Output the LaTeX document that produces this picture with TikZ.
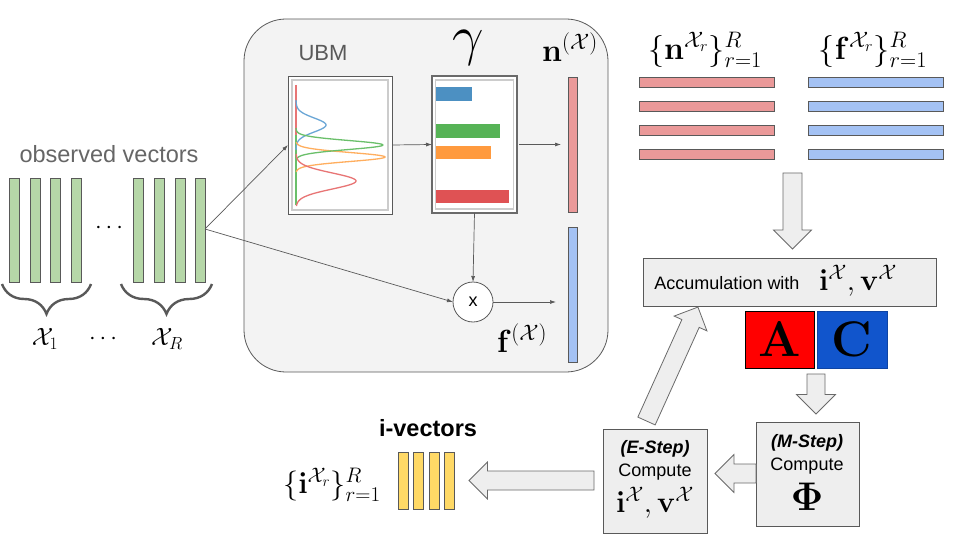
\RequirePackage{fix-cm}
\documentclass[tikz,border=0pt]{standalone}
\usepackage[no-math]{fontspec}
\setmainfont{Liberation Sans}
\usetikzlibrary{decorations.pathreplacing,arrows.meta,calc}
\definecolor{linegray}{HTML}{595959}
\definecolor{txtgray}{HTML}{666666}
\definecolor{gfill}{HTML}{B6D7A8}
\definecolor{boxfill}{HTML}{F3F3F3}
\definecolor{lightfill}{HTML}{EEEEEE}
\definecolor{nred}{HTML}{EA9999}
\definecolor{fblue}{HTML}{A4C2F4}
\definecolor{yel}{HTML}{FFD966}
\definecolor{cblue}{HTML}{1155CC}
\definecolor{tabblue}{HTML}{4C90C2}
\definecolor{tabgreen}{HTML}{56B356}
\definecolor{taborange}{HTML}{FF9A3E}
\definecolor{tabred}{HTML}{DF5254}
\definecolor{cvblue}{HTML}{6AA6D6}
\definecolor{cvgreen}{HTML}{6ABF6A}
\definecolor{cvorange}{HTML}{FFAE5E}
\definecolor{cvred}{HTML}{E87575}
\newcommand\fsz[1]{\fontsize{#1}{#1}\selectfont}
\tikzset{
  every node/.style={inner sep=0pt, outer sep=0pt},
  gbar/.style={draw=linegray, fill=gfill, line width=0.8pt, minimum width=10pt, minimum height=104pt},
  ybar/.style={draw=linegray, fill=yel, line width=0.8pt, minimum width=10pt, minimum height=57pt},
  hbarn/.style={draw=linegray, fill=nred, line width=0.8pt, minimum width=135pt, minimum height=10pt},
  hbarf/.style={draw=linegray, fill=fblue, line width=0.8pt, minimum width=135pt, minimum height=10pt},
  graybox/.style={draw=linegray, fill=lightfill, line width=0.8pt},
  thinarrow/.style={draw=linegray, line width=0.7pt, -{Latex[length=6pt,width=4pt]}},
  hollow/.style={draw=linegray!90, fill=lightfill, line width=0.8pt, line join=miter},
  curve/.style={line width=1.3pt},
  bracestyle/.style={draw=linegray, line width=2.4pt, decorate, decoration={brace, amplitude=30pt}},
  pics/harrow/.style n args={3}{code={
    \draw[hollow] (0,{-#2/2}) -- ({#1-#3},{-#2/2}) -- ({#1-#3},{-#3}) -- (#1,0)
      -- ({#1-#3},{#3}) -- ({#1-#3},{#2/2}) -- (0,{#2/2}) -- cycle;}}
}
\begin{document}
\begin{tikzpicture}[x=1pt,y=-1pt]
\useasboundingbox (0,0) rectangle (960,540);
\fill[white] (0,0) rectangle (960,540);

% observed vectors
\node[text=txtgray, font=\fsz{23.5}] (obs) at (109,154) {observed vectors};
\foreach \i/\x in {1/14,2/35,3/55,4/76,5/138,6/159,7/180,8/200}
  \node[gbar] (g\i) at (\x,230) {};
\node[font=\fsz{24}] (dots1) at (109,228) {$\cdots$};
\draw[bracestyle] (91,284) -- (2,284);
\draw[bracestyle] (212,284) -- (121,284);
\node[font=\fsz{25}] (x1) at (45,339) {$\mathcal{X}_1$};
\node[font=\fsz{24}] (dots2) at (103,339) {$\cdots$};
\node[font=\fsz{25}] (xr) at (167,339) {$\mathcal{X}_R$};
\coordinate (src) at (205,229);

% processing box
\node[draw=linegray, fill=boxfill, line width=0.8pt, rounded corners=42pt,
      minimum width=364pt, minimum height=353pt] (proc) at (426,195.5) {};
\node[text=linegray, font=\fsz{22}] (ubmlbl) at (323,53) {UBM};
\node[draw=linegray, fill=white, line width=0.8pt, minimum width=104pt, minimum height=138pt] (ubm) at (340,145) {};
\draw[black!20, line width=1.5pt] (292,80) rectangle (388,210);
% gaussians
\draw[cvred, curve] (296,85) -- (296,165);
\draw[cvgreen, curve] (296,135) -- (296,205);
\draw[cvblue, curve] plot[domain=100:150, variable=\t, samples=60] ({296+30*exp(-((\t-125)/7)^2/2)}, \t);
\draw[cvorange, curve] plot[domain=142:172, variable=\t, samples=60] ({296+89*exp(-((\t-157)/4.5)^2/2)}, \t);
\draw[cvgreen, curve] plot[domain=128:162, variable=\t, samples=60] ({296+87*exp(-((\t-145)/4.5)^2/2)}, \t);
\draw[cvred, curve] plot[domain=154:206, variable=\t, samples=60] ({296+60*exp(-((\t-181)/8)^2/2)}, \t);

\node[font=\fsz{56}] (gamlbl) at (468,48) {$\gamma$};
\node[draw=linegray!90, fill=white, line width=2.6pt, minimum width=85pt, minimum height=137pt] (gam) at (474.5,144.5) {};
\draw[black!20, line width=1.5pt] (435.5,80) rectangle (513.5,209);
\fill[tabblue] (436,87) rectangle (472,101);
\fill[tabgreen] (436,124) rectangle (500,138);
\fill[taborange] (436,146) rectangle (491,159);
\fill[tabred] (436,190) rectangle (509,203);

\node[font=\fsz{32}] (nlbl) at (570,47) {$\mathbf{n}^{(\mathcal{X})}$};
\node[draw=linegray, fill=nred, line width=0.8pt, minimum width=9pt, minimum height=135pt] (nbar) at (572.5,144.5) {};
\node[draw=linegray, fill=fblue, line width=0.8pt, minimum width=9pt, minimum height=135pt] (fbar) at (572.5,294.5) {};
\node[font=\fsz{32}] (flbl) at (522,338) {$\mathbf{f}^{(\mathcal{X})}$};
\node[draw=linegray, fill=white, line width=0.8pt, circle, minimum size=40pt, font=\fsz{18}] (mult) at (473,302) {x};

\draw[thinarrow] (src) -- (ubm.west);
\draw[thinarrow] (src) -- (mult.west);
\draw[thinarrow] (ubm.east) -- (gam.west);
\draw[thinarrow, shorten <=2pt, shorten >=7pt] (gam.east) -- (gam.east -| nbar.west);
\draw[thinarrow] (gam.south) -- (mult.north);
\draw[thinarrow, shorten >=12pt] (mult.east) -- (mult.east -| fbar.west);

% accumulated statistics
\node[font=\fsz{32}] (nset) at (705,50) {$\{\mathbf{n}^{\mathcal{X}_r}\}_{r=1}^{R}$};
\node[font=\fsz{32}] (fset) at (873,50) {$\{\mathbf{f}^{\mathcal{X}_r}\}_{r=1}^{R}$};
\foreach \i/\y in {1/82,2/106,3/130,4/154} {
  \node[hbarn] (nr\i) at (706.5,\y) {};
  \node[hbarf] (fr\i) at (875.5,\y) {};
}
\pic[rotate=-90] at (792.5,173) {harrow={76}{19}{19}};

\node[graybox, minimum width=293pt, minimum height=48pt] (acc) at (789.5,282) {};
\node[font=\fsz{18}] (acctxt) at (727,283) {Accumulation with};
\node[font=\fsz{30}] (accmath) at (858,281) {$\mathbf{i}^{\mathcal{X}},\mathbf{v}^{\mathcal{X}}$};

\node[draw=black, fill=red, line width=0.8pt, minimum width=69pt, minimum height=57pt, font=\fsz{50}] (abox) at (779.5,339.5) {$\mathbf{A}$};
\node[draw=cblue!80!black, fill=cblue, line width=0.8pt, minimum width=70pt, minimum height=57pt, font=\fsz{50}] (cbox) at (852,339.5) {$\mathbf{C}$};
\pic[rotate=-90] at (816,374) {harrow={40}{18}{19.5}};

\node[graybox, minimum width=103pt, minimum height=104pt] (mbox) at (807.5,474) {};
\node[font=\fsz{18}\bfseries\itshape] (mstep) at (807,443) {(M-Step)};
\node[font=\fsz{18}] (mcomp) at (807,466) {Compute};
\node[font=\fsz{40}] (phi) at (807,497) {$\mathbf{\Phi}$};

\node[graybox, minimum width=104pt, minimum height=104pt] (ebox) at (655,481) {};
\node[font=\fsz{18}\bfseries\itshape] (estep) at (655,449) {(E-Step)};
\node[font=\fsz{18}] (ecomp) at (655,472) {Compute};
\node[font=\fsz{30}] (emath) at (655,503) {$\mathbf{i}^{\mathcal{X}},\mathbf{v}^{\mathcal{X}}$};

\pic[rotate=180] at (756,473.5) {harrow={41}{19}{19}};
\pic[rotate=65.7] at (646.5,421) {harrow={125}{19}{18}};
\pic[rotate=180] at (594,480.5) {harrow={125}{19}{18.5}};

% i-vectors
\node[font=\fsz{23.5}\bfseries] (ivlbl) at (428,428) {i-vectors};
\foreach \i/\x in {1/403,2/418,3/434,4/449}
  \node[ybar] (y\i) at (\x,480.5) {};
\node[font=\fsz{30}] (iset) at (332,485) {$\{\mathbf{i}^{\mathcal{X}_r}\}_{r=1}^{R}$};
\end{tikzpicture}
\end{document}
